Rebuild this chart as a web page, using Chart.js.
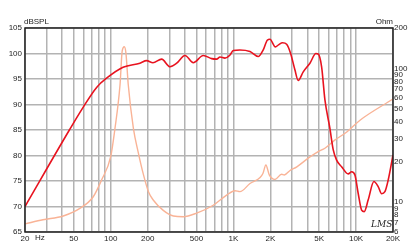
<!DOCTYPE html>
<html>
<head>
<meta charset="utf-8">
<script src="https://cdn.jsdelivr.net/npm/chart.js@4"></script>
<style>
  html, body { margin: 0; padding: 0; background: #fff; }
  canvas { display: block; }
</style>
</head>
<body>
<canvas id="grafico" width="416" height="252"></canvas>
<script>
// respuesta en frecuencia (dB SPL, eje izquierdo)
const splFreq = [20, 46, 59, 77, 93, 126, 173, 196, 221, 260, 304, 345, 403, 471, 568, 665, 730, 777, 853, 938, 998, 1130, 1365, 1593, 1750, 1888, 1985, 2200, 2330, 2519, 2717, 2927, 3171, 3375, 3709, 4207, 4706, 4912, 5237, 5573, 6100, 6516, 6937, 7622, 8629, 9200, 9782, 10400, 11090, 11650, 12560, 13970, 15140, 16150, 17180, 18280, 20000];
const splDb = [70, 85, 89.3, 93.4, 95.2, 97.3, 98.1, 98.6, 98.2, 98.9, 97.4, 98.1, 99.6, 98.2, 99.6, 99, 98.9, 99.3, 99.1, 99.7, 100.6, 100.7, 100.4, 99.4, 100.7, 102.6, 102.8, 101.3, 101.7, 102.1, 101.8, 100, 96.8, 94.7, 96.4, 98.1, 100, 99.9, 97.4, 90.9, 85.5, 81.1, 79.1, 77.8, 76.4, 76.8, 76.2, 72.6, 69.3, 69, 71.3, 74.9, 73.9, 72.5, 72.9, 75.2, 80.1];

// impedancia (Ohm, eje derecho)
const impFreq = [20, 28, 41, 56, 72, 84, 100, 108, 119, 124, 129, 133, 139, 153, 167, 185, 203, 222, 268, 324, 390, 502, 685, 880, 1030, 1130, 1365, 1650, 1740, 1840, 1960, 2180, 2470, 2600, 2880, 3290, 4207, 4912, 5573, 6700, 8450, 10770, 20000];
const impOhm = [6.9, 7.4, 7.9, 9.0, 11.0, 14.6, 22, 35, 75, 135, 145, 130, 75, 35.6, 23.9, 16, 12, 10.4, 8.7, 7.9, 7.8, 8.3, 9.5, 11.3, 12.2, 12.0, 13.8, 15.3, 16.4, 19, 16, 14.8, 16.2, 16, 17.2, 18.4, 21.8, 23.9, 25.3, 29.1, 33.6, 41, 59];

// ejes
const xGrid = [20, 30, 40, 50, 60, 70, 80, 90, 100, 200, 300, 400, 500, 600, 700, 800, 900, 1000, 2000, 3000, 4000, 5000, 6000, 7000, 8000, 9000, 10000, 20000];
const xLabelValues = [20, 50, 100, 200, 500, 1000, 2000, 5000, 10000, 20000];
const xLabelTexts = ["20", "50", "100", "200", "500", "1K", "2K", "5K", "10K", "20K"];
const ohmTicks = [6, 7, 8, 9, 10, 20, 30, 40, 50, 60, 70, 80, 90, 100, 200];

const fuente = "'Liberation Sans', Arial, sans-serif";
const colorGrid = "#b3b3b3";
const colorTexto = "#1e1e1e";

const textos = {
  id: "textos",
  afterDraw(chart) {
    const ctx = chart.ctx;
    const a = chart.chartArea;
    ctx.save();
    ctx.strokeStyle = "#222";
    ctx.lineWidth = 1.5;
    ctx.strokeRect(a.left, a.top, a.right - a.left, a.bottom - a.top);
    ctx.fillStyle = colorTexto;
    ctx.font = "8px " + fuente;
    ctx.textBaseline = "alphabetic";
    ctx.textAlign = "left";
    ctx.fillText("dBSPL", 24, 24);
    ctx.textAlign = "right";
    ctx.fillText("Ohm", 393, 24);
    ctx.textAlign = "left";
    ctx.textBaseline = "top";
    ctx.fillText("Hz", 35, a.bottom + 2);
    ctx.font = "italic 9px 'DejaVu Serif', serif";
    ctx.textBaseline = "alphabetic";
    ctx.fillText("LMS", 371, 227);
    ctx.restore();
  }
};

new Chart(document.getElementById("grafico").getContext("2d"), {
  type: "line",
  data: {
    datasets: [
      {
        data: splFreq.map((f, i) => ({ x: f, y: splDb[i] })),
        yAxisID: "y",
        borderColor: "#e8131f",
        borderWidth: 1.6,
        pointRadius: 0,
        cubicInterpolationMode: "monotone"
      },
      {
        data: impFreq.map((f, i) => ({ x: f, y: impOhm[i] })),
        yAxisID: "y2",
        borderColor: "#f9b396",
        borderWidth: 1.4,
        pointRadius: 0,
        cubicInterpolationMode: "monotone"
      }
    ]
  },
  options: {
    responsive: false,
    animation: false,
    layout: { padding: { top: 28, left: 0, right: 0, bottom: 0 } },
    plugins: { legend: { display: false }, tooltip: { enabled: false } },
    scales: {
      x: {
        type: "logarithmic",
        min: 20,
        max: 20000,
        afterBuildTicks: (axis) => { axis.ticks = xGrid.map((v) => ({ value: v })); },
        afterFit: (axis) => { axis.height = 20; },
        grid: { color: colorGrid, lineWidth: 1.5, drawTicks: false },
        border: { display: false },
        ticks: {
          autoSkip: false,
          maxRotation: 0,
          padding: 2,
          color: colorTexto,
          font: { family: fuente, size: 8 },
          callback: (v) => {
            const i = xLabelValues.indexOf(v);
            return i >= 0 ? xLabelTexts[i] : "";
          }
        }
      },
      y: {
        position: "left",
        min: 65,
        max: 105,
        afterFit: (axis) => { axis.width = 25; },
        grid: { color: colorGrid, lineWidth: 1.5, drawTicks: false },
        border: { display: false },
        ticks: { stepSize: 5, padding: 3, color: colorTexto, font: { family: fuente, size: 8 } }
      },
      y2: {
        type: "logarithmic",
        position: "right",
        min: 6,
        max: 200,
        afterBuildTicks: (axis) => { axis.ticks = ohmTicks.map((v) => ({ value: v })); },
        afterFit: (axis) => { axis.width = 23; },
        grid: { drawOnChartArea: false, drawTicks: false },
        border: { display: false },
        ticks: {
          autoSkip: false,
          padding: 1,
          color: colorTexto,
          font: { family: fuente, size: 8 },
          callback: (v) => String(v)
        }
      }
    }
  },
  plugins: [textos]
});
</script>
</body>
</html>
